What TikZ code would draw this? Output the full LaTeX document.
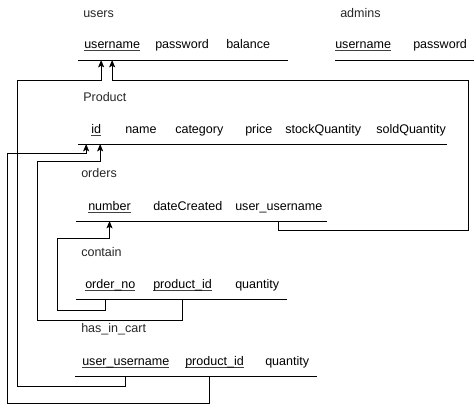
\documentclass[tikz,border=0pt]{standalone}
\usepackage{fontspec}
\setmainfont{Liberation Sans}
\usetikzlibrary{calc,arrows.meta}

% key attribute: text with a thin rule just under the baseline
\newcommand{\keyfield}[1]{\setbox0\hbox{#1}\rlap{{\color{black!75}\rule[-1.7pt]{\wd0}{0.55pt}}}\box0}

\begin{document}
\begin{tikzpicture}[x=0.75pt,y=-0.75pt,
  every node/.style={font=\fontsize{9.4}{11}\selectfont, inner sep=0pt, anchor=west,
                     text height=6.5pt, text depth=2pt},
  tabletitle/.style={text=black!85},
  tablerule/.style={line width=0.75pt},
  link/.style={line width=0.75pt},
  fk/.style={link, -{Stealth[length=5.5pt,width=4.5pt,inset=1.2pt]}}]
\useasboundingbox (0,0) rectangle (476,412);

% ---- users
\node[tabletitle] (usersT) at (83,14) {users};
\node (uName) at (84,45) {\keyfield{username}};
\node (uPass) at (155,45) {password};
\node (uBal)  at (226,45) {balance};
\coordinate (usersL) at (78,60);
\coordinate (usersR) at (288,60);
\draw[tablerule] (usersL) -- (usersR);

% ---- admins
\node[tabletitle] (adminsT) at (340,14) {admins};
\node (aName) at (335,45) {\keyfield{username}};
\node (aPass) at (413,45) {password};
\coordinate (adminsL) at (335,60);
\coordinate (adminsR) at (474,60);
\draw[tablerule] (adminsL) -- (adminsR);

% ---- Product
\node[tabletitle] (prodT) at (83,98) {Product};
\node (pId)    at (91,130)  {\keyfield{id}};
\node (pName)  at (125,130) {name};
\node (pCat)   at (175,130) {category};
\node (pPrice) at (245,130) {price};
\node (pStock) at (285,130) {stockQuantity};
\node (pSold)  at (376,130) {soldQuantity};
\coordinate (prodL) at (78,144);
\coordinate (prodR) at (447,144);
\draw[tablerule] (prodL) -- (prodR);

% ---- orders
\node[tabletitle] (ordT) at (81,174) {orders};
\node (oNum)  at (88,207)  {\keyfield{number}};
\node (oDate) at (153,207) {dateCreated};
\node (oUser) at (235,207) {user\_username};
\coordinate (ordL) at (76,221);
\coordinate (ordR) at (327,221);
\draw[tablerule] (ordL) -- (ordR);

% ---- contain
\node[tabletitle] (contT) at (81,253) {contain};
\node (cOrd)  at (85,285)  {\keyfield{order\_no}};
\node (cProd) at (153,285) {\keyfield{product\_id}};
\node (cQty)  at (235,285) {quantity};
\coordinate (contL) at (76,299);
\coordinate (contR) at (287,299);
\draw[tablerule] (contL) -- (contR);

% ---- has_in_cart
\node[tabletitle] (cartT) at (81,329) {has\_in\_cart};
\node (kUser) at (82,362)  {\keyfield{user\_username}};
\node (kProd) at (185,362) {\keyfield{product\_id}};
\node (kQty)  at (265,362) {quantity};
\coordinate (cartL) at (75,376);
\coordinate (cartR) at (317,376);
\draw[tablerule] (cartL) -- (cartR);

% ---- attachment points of the links, slightly off the field centres
\coordinate (uNameA) at ($(uName.center)+(-11,0)$);
\coordinate (pIdA)   at ($(pId.center)+(-10,0)$);
\coordinate (pIdB)   at ($(pId.center)+(4,0)$);
\coordinate (cOrdA)  at ($(cOrd.center)+(-5,0)$);
\coordinate (kProdA) at ($(kProd.center)+(-5,0)$);

% ---- foreign keys
% orders.user_username -> users.username
\coordinate (bendA) at (468,80);
\draw[fk] (oUser.center |- ordL) -- ++(0,9) -| (bendA) -| (uName.center |- usersL);

% has_in_cart.user_username -> users.username
\coordinate (bendB) at (17,80);
\draw[fk] (kUser.center |- cartL) -- ++(0,10) -| (bendB) -| (uNameA |- usersL);

% contain.order_no -> orders.number
\coordinate (bendC) at (57,238);
\draw[fk] (cOrdA |- contL) -- ++(0,11) -| (bendC) -| (oNum.center |- ordL);

% contain.product_id -> Product.id
\coordinate (bendD) at (37,161);
\draw[fk] (cProd.center |- contL) -- ++(0,21) -| (bendD) -| (pIdB |- prodL);

% has_in_cart.product_id -> Product.id
\coordinate (bendE) at (7,153);
\draw[fk] (kProdA |- cartL) -- ++(0,27) -| (bendE) -| (pIdA |- prodL);

\end{tikzpicture}
\end{document}
